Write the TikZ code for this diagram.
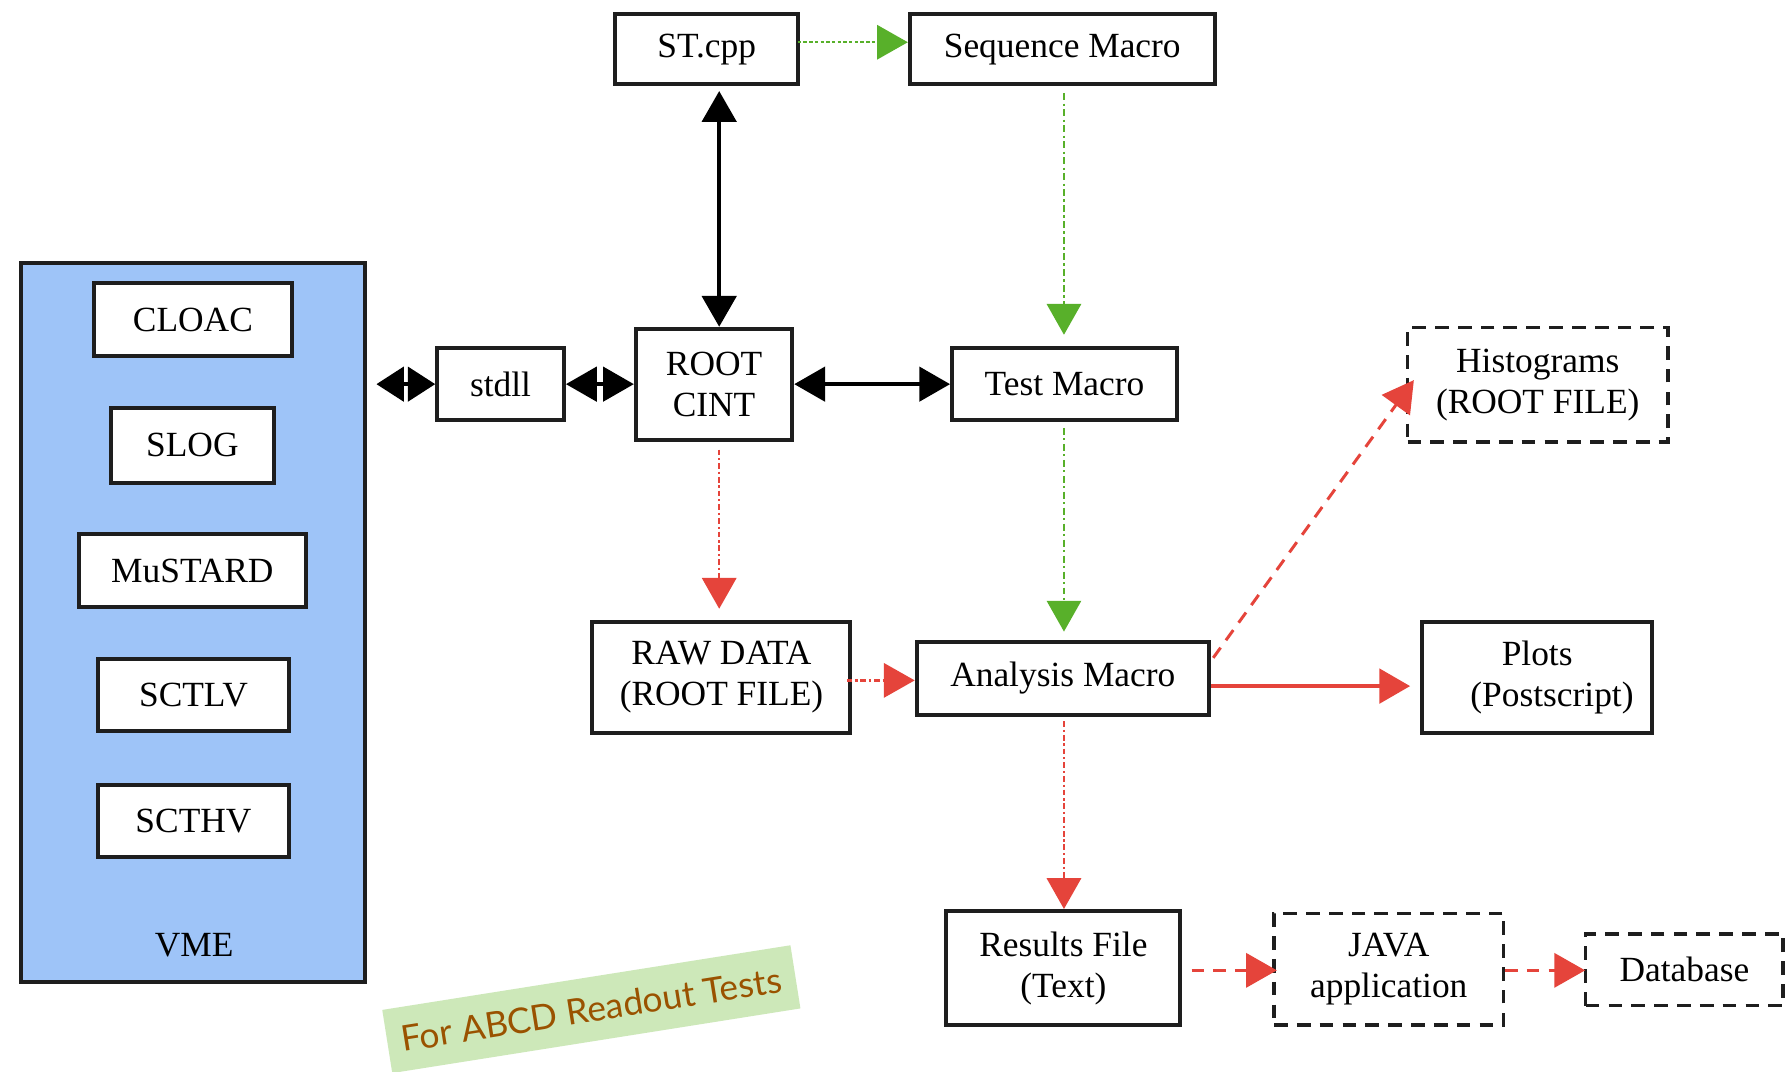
\documentclass[tikz,border=0pt]{standalone}
\usepackage{fontspec}
\setmainfont{Liberation Serif}
\newfontfamily\labelfont{Lato}
\usetikzlibrary{arrows.meta,calc}
\definecolor{vmeblue}{HTML}{9EC4F8}
\definecolor{redA}{HTML}{E5443B}
\definecolor{greenA}{HTML}{58B02A}
\definecolor{lblgreen}{HTML}{CDE8B9}
\definecolor{lbltext}{HTML}{9A5200}
\definecolor{boxline}{HTML}{1E1E1E}
\begin{document}
\begin{tikzpicture}[x=1pt,y=-1pt,
  font=\fontsize{31}{36}\selectfont,
  >={Triangle[length=27pt,width=30pt]},
  box/.style={draw=boxline, line width=3.5pt, fill=white, inner sep=0pt, align=center},
  dbox/.style={box, dash pattern=on 12pt off 8pt, line width=3pt},
  blkarr/.style={line width=3.5pt, draw=black, <->},
  smallarr/.style={line width=3.5pt, draw=black, {Triangle[length=24pt,width=30pt]}-{Triangle[length=24pt,width=30pt]}},
  grdot/.style={line width=2.2pt, draw=greenA, dash pattern=on 3pt off 2pt, ->},
  grdd/.style={line width=2pt, draw=greenA, dash pattern=on 6pt off 3pt on 2pt off 3pt, ->},
  rddot/.style={line width=2.2pt, draw=redA, dash pattern=on 5pt off 2.5pt on 2pt off 2.5pt, ->},
  rddash/.style={line width=2.6pt, draw=redA, dash pattern=on 11pt off 8pt, ->},
  rdsolid/.style={line width=4pt, draw=redA, ->}
]
\useasboundingbox (0,0) rectangle (1568,939);
\fill[white] (0,0) rectangle (1568,939);

% VME group
\node[draw=boxline, line width=3.5pt, fill=vmeblue, minimum width=302pt, minimum height=630pt, inner sep=0pt] (vme) at (169,545) {};
\node[box, minimum width=174pt, minimum height=64pt] (cloac) at (169,280) {CLOAC};
\node[box, minimum width=143pt, minimum height=66pt] (slog) at (168.5,390) {SLOG};
\node[box, minimum width=199pt, minimum height=64pt] (mustard) at (168.5,500) {MuSTARD};
\node[box, minimum width=167pt, minimum height=63pt] (sctlv) at (169.5,608.5) {SCTLV};
\node[box, minimum width=167pt, minimum height=63pt] (scthv) at (169.5,719.5) {SCTHV};
\node (vmelbl) at (170,828) {VME};

% main boxes
\node[box, minimum width=111pt, minimum height=63pt] (stdll) at (438.5,336.5) {stdll};
\node[box, minimum width=137pt, minimum height=97pt] (root) at (625.5,336.5) {ROOT\\CINT};
\node[box, minimum width=160pt, minimum height=62pt] (st) at (619,43) {ST.cpp};
\node[box, minimum width=267pt, minimum height=62pt] (seq) at (930.5,43) {Sequence Macro};
\node[box, minimum width=197pt, minimum height=63pt] (test) at (932.5,336.5) {Test Macro};
\node[dbox, minimum width=228pt, minimum height=100pt] (hist) at (1347,337) {Histograms\\(ROOT FILE)};
\node[box, minimum width=226pt, minimum height=97pt] (raw) at (632,593.5) {RAW DATA\\(ROOT FILE)};
\node[box, minimum width=256pt, minimum height=64pt] (ana) at (931,594) {Analysis Macro};
\node[box, minimum width=201pt, minimum height=97pt] (plots) at (1346.5,593.5) {Plots\\\hspace*{26pt}(Postscript)};
\node[box, minimum width=205pt, minimum height=100pt] (results) at (931.5,848) {Results File\\(Text)};
\node[dbox, minimum width=201pt, minimum height=98pt] (java) at (1216.5,849) {JAVA\\application};
\node[dbox, minimum width=173pt, minimum height=63pt] (db) at (1475.5,849.5) {Database};

% label
\node[fill=lblgreen, rotate=9, minimum width=362pt, minimum height=56pt, text=lbltext,
      font=\labelfont\fontsize{31}{36}\selectfont] (lbl) at (518,884) {For ABCD Readout Tests};

% helper coordinates
\coordinate (vx) at (630,0);
\coordinate (gx) at (932,0);
\coordinate (gy) at (0,37);
\coordinate (ry) at (0,596);
\coordinate (py) at (0,601);
\coordinate (jy) at (0,850);

% black connectors
\draw[smallarr] ([xshift=8pt]vme.east |- stdll.west) -- (stdll.west);
\draw[blkarr] (stdll.east) -- (root.west);
\draw[blkarr] (root.east) -- (test.west);
\draw[blkarr] ([yshift=-4pt]st.south -| vx) -- (root.north -| vx);

% green connectors
\draw[grdot] ([xshift=-2pt]st.east |- gy) -- (seq.west |- gy);
\draw[grdd] ([yshift=-6pt]seq.south -| gx) -- ([yshift=10pt]test.north -| gx);
\draw[grdd] ([yshift=-5pt]test.south -| gx) -- ([yshift=7pt]ana.north -| gx);

% red connectors
\draw[rddot] ([yshift=-7pt]root.south -| vx) -- ([yshift=10pt]raw.north -| vx);
\draw[rddot] ([xshift=-5pt]raw.east |- ry) -- (ana.west |- ry);
\draw[rddot] ([yshift=-4pt]ana.south -| gx) -- (results.north -| gx);
\draw[rdsolid] (ana.east |- py) -- ([xshift=-9pt]plots.west |- py);
\draw[rddash] ([shift={(2pt,-16pt)}]ana.north east) -- ([shift={(7pt,4pt)}]hist.west);
\draw[rddash] ([xshift=8pt]results.east |- jy) -- ([xshift=4pt]java.west |- jy);
\draw[rddash] (java.east |- jy) -- ([xshift=1pt]db.west |- jy);
\end{tikzpicture}
\end{document}
